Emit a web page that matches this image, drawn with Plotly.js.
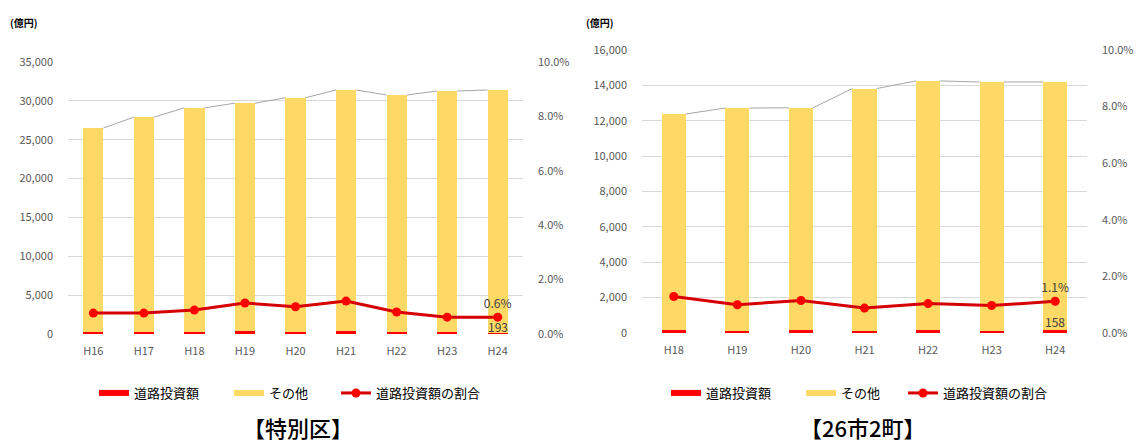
<!DOCTYPE html>
<html><head><meta charset="utf-8">
<script src="https://cdn.plot.ly/plotly-3.0.1.min.js"></script>
<style>html,body{margin:0;padding:0;background:#fff}#chart{width:1138px;height:443px}</style>
</head><body><div id="chart"></div>
<script>
// ---- data: 特別区 ----
const catsL  = ['H16','H17','H18','H19','H20','H21','H22','H23','H24'];
const roadL  = [204, 215, 256, 339, 304, 380, 249, 194, 193];
const otherL = [26296, 27685, 28844, 29361, 30096, 31020, 30501, 31076, 31207];
const ratioL = [0.77, 0.77, 0.88, 1.14, 1.00, 1.21, 0.81, 0.62, 0.62];
// ---- data: 26市2町 ----
const catsR  = ['H18','H19','H20','H21','H22','H23','H24'];
const roadR  = [160, 127, 146, 121, 148, 138, 158];
const otherR = [12220, 12593, 12584, 13699, 14102, 14052, 14032];
const ratioR = [1.29, 1.00, 1.15, 0.88, 1.04, 0.97, 1.12];

const nameRoad = '道路投資額', nameOther = 'その他', nameRatio = '道路投資額の割合';
const titleL = '【特別区】', titleR = '【26市2町】', unit = '(億円)';

const RED = '#ff0000', YEL = '#ffd966', GRID = '#d9d9d9', TICK = '#595959', LINE = '#d60000';
const FONT = '"Noto Sans CJK JP", "Noto Sans", sans-serif';

function seriesLines(road, other, w) {
  const xs = [], ys = [];
  for (let i = 0; i < road.length - 1; i++) {
    xs.push(i + w / 2, i + 1 - w / 2, null);
    ys.push(road[i] + other[i], road[i + 1] + other[i + 1], null);
  }
  return {xs, ys};
}
function lastText(arr, fmt) { return arr.map((v, i) => i === arr.length - 1 ? fmt(v) : ''); }

const wL = 0.4, wR = 0.38;
const idxL = catsL.map((_, i) => i), idxR = catsR.map((_, i) => i);
const slL = seriesLines(roadL, otherL, wL), slR = seriesLines(roadR, otherR, wR);

function chartTraces(idx, road, other, ratio, sl, w, xa, ya, ya2, lg) {
  return [
    {type:'bar', x: idx, y: road, name: nameRoad, marker:{color: RED}, width: w, xaxis: xa, yaxis: ya, showlegend:false},
    {type:'bar', x: idx, y: other, name: nameOther, marker:{color: YEL}, width: w, xaxis: xa, yaxis: ya, showlegend:false},
    {type:'scatter', mode:'lines', x: sl.xs, y: sl.ys, line:{color:'#a6a6a6', width:1}, showlegend:false, hoverinfo:'skip', xaxis: xa, yaxis: ya},
    {type:'scatter', mode:'lines+markers+text', x: idx, y: ratio, name: nameRatio, xaxis: xa, yaxis: ya2, legend: lg[2],
     line:{color: LINE, width:3}, marker:{color: RED, size:9},
     text: lastText(ratio, v => v.toFixed(1) + '%'), textposition:'top center', textfont:{family: FONT, color:'#404040', size:12}},
    // legend swatches for the bar series (wide bar style)
    {type:'scatter', mode:'lines', x:[null], y:[null], name: nameRoad, line:{color: RED, width:6}, xaxis: xa, yaxis: ya, legend: lg[0]},
    {type:'scatter', mode:'lines', x:[null], y:[null], name: nameOther, line:{color: YEL, width:6}, xaxis: xa, yaxis: ya, legend: lg[1]}
  ];
}

const traces = [].concat(
  chartTraces(idxL, roadL, otherL, ratioL, slL, wL, 'x', 'y', 'y2', ['legend', 'legend2', 'legend3']),
  chartTraces(idxR, roadR, otherR, ratioR, slR, wR, 'x2', 'y3', 'y4', ['legend4', 'legend5', 'legend6'])
);

const H = 443;
const py = p => 1 - p / H;
const tickFont = {family: FONT, size: 11, color: TICK};

const xCommon = {showgrid:false, zeroline:false, showline:false, ticks:'', tickfont: tickFont, ticklabelstandoff: 9, fixedrange:true};
const yCommon = {zeroline:false, showline:false, ticks:'', tickfont: tickFont, ticklabelstandoff: 14};

function lg(xpx) {
  return {orientation:'h', x: xpx / 1138, y: py(393), xanchor:'left', yanchor:'middle',
          font:{family: FONT, size:13, color:'#000'}, bgcolor:'rgba(0,0,0,0)'};
}

const layout = {
  width: 1138, height: 443,
  margin: {l:0, r:0, t:0, b:0},
  paper_bgcolor:'#fff', plot_bgcolor:'#fff',
  barmode:'stack',
  font: {family: FONT},
  xaxis: Object.assign({}, xCommon, {domain:[68/1138, 523/1138], range:[-0.5, catsL.length - 0.5], tickvals: idxL, ticktext: catsL, anchor:'y'}),
  yaxis: Object.assign({}, yCommon, {domain:[py(334), py(62)], range:[0, 35000], dtick:5000, tickformat:',d', showgrid:true, gridcolor: GRID, anchor:'x'}),
  yaxis2: Object.assign({}, yCommon, {domain:[py(334), py(62)], range:[0, 10], dtick:2, tickformat:'.1f', ticksuffix:'%', showgrid:false, overlaying:'y', side:'right', anchor:'x'}),
  xaxis2: Object.assign({}, xCommon, {domain:[642/1138, 1087/1138], range:[-0.5, catsR.length - 0.5], tickvals: idxR, ticktext: catsR, anchor:'y3'}),
  yaxis3: Object.assign({}, yCommon, {domain:[py(333), py(50)], range:[0, 16000], dtick:2000, tickformat:',d', showgrid:true, gridcolor: GRID, anchor:'x2'}),
  yaxis4: Object.assign({}, yCommon, {domain:[py(333), py(50)], range:[0, 10], dtick:2, tickformat:'.1f', ticksuffix:'%', showgrid:false, overlaying:'y3', side:'right', anchor:'x2'}),
  legend: lg(94), legend2: lg(229), legend3: lg(336),
  legend4: lg(666), legend5: lg(801), legend6: lg(903),
  annotations: [
    {xref:'paper', yref:'paper', x: 8/1138, y: py(22), xanchor:'left', yanchor:'middle', text: unit, showarrow:false, font:{family: FONT, size:10, color:'#000', weight:700}},
    {xref:'paper', yref:'paper', x: 584/1138, y: py(22), xanchor:'left', yanchor:'middle', text: unit, showarrow:false, font:{family: FONT, size:10, color:'#000', weight:700}},
    {xref:'paper', yref:'paper', x: 298/1138, y: py(427), xanchor:'center', yanchor:'middle', text: titleL, showarrow:false, font:{family: FONT, size:22, color:'#000', weight:500}},
    {xref:'paper', yref:'paper', x: 863/1138, y: py(427), xanchor:'center', yanchor:'middle', text: titleR, showarrow:false, font:{family: FONT, size:22, color:'#000', weight:500}},
    {xref:'x', yref:'y', x: catsL.length - 1, y: roadL[roadL.length - 1], xanchor:'center', yanchor:'bottom', yshift: -4, text: String(roadL[roadL.length - 1]), showarrow:false, font:{family: FONT, size:12, color:'#404040'}},
    {xref:'x2', yref:'y3', x: catsR.length - 1, y: roadR[roadR.length - 1], xanchor:'center', yanchor:'bottom', yshift: -2, text: String(roadR[roadR.length - 1]), showarrow:false, font:{family: FONT, size:12, color:'#404040'}}
  ]
};

Plotly.newPlot('chart', traces, layout, {displayModeBar:false, staticPlot:true});
</script>
</body></html>
